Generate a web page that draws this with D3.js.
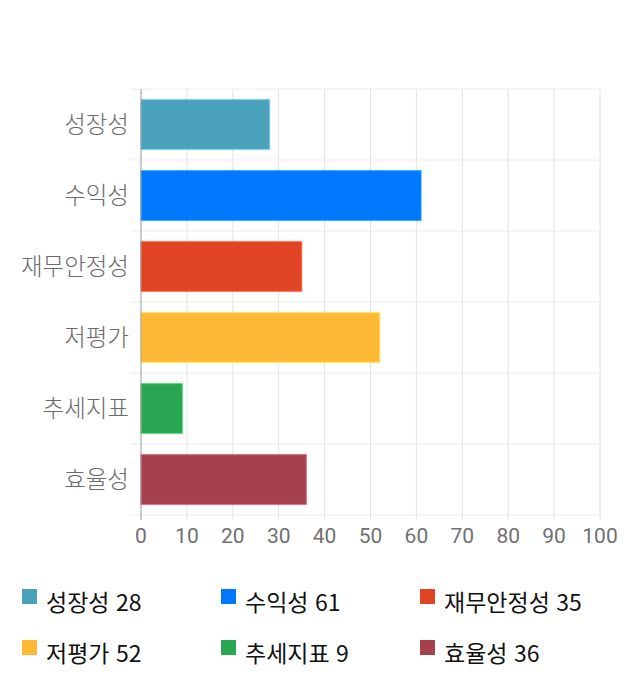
<!DOCTYPE html>
<html lang="ko">
<head>
<meta charset="UTF-8"/>
<title>Score chart</title>
<script src="https://d3js.org/d3.v7.min.js"></script>
<style>
  body { margin: 0; background: #fff; }
  svg text { font-family: "Noto Sans CJK KR", "Noto Sans", sans-serif; }
</style>
</head>
<body>
<script>
    // chart data
    var categories = ["성장성", "수익성", "재무안정성", "저평가", "추세지표", "효율성"];
    var scores = [28, 61, 35, 52, 9, 36];
    var colors = ["#4aa1ba", "#0077ff", "#e04424", "#feb833", "#28a652", "#a6404d"];
    var xTicks = [0, 10, 20, 30, 40, 50, 60, 70, 80, 90, 100];

    var w = 640;
    var h = 700;
    var plotLeft = 141, plotRight = 600, plotTop = 89, plotBottom = 515;

    var svg = d3.select("body")
                .append("svg")
                .attr("width", w)
                .attr("height", h);

    var xScale = d3.scaleLinear()
                   .domain([0, 100])
                   .range([plotLeft, plotRight]);

    var yScale = d3.scaleBand()
                   .domain(categories)
                   .range([plotTop, plotBottom])
                   .paddingInner(0.3)
                   .paddingOuter(0.15);

    var step = yScale.step();

    // vertical grid lines
    svg.selectAll("line.vgrid")
        .data(xTicks.slice(1))
        .enter()
        .append("line")
        .attr("class", "vgrid")
        .attr("x1", function(d) { return xScale(d); })
        .attr("x2", function(d) { return xScale(d); })
        .attr("y1", plotTop)
        .attr("y2", plotBottom + 5)
        .attr("stroke", "#e3e3e3")
        .attr("stroke-width", 1);

    // horizontal band lines
    var bandEdges = d3.range(categories.length + 1).map(function(i) { return plotTop + i * step; });
    svg.selectAll("line.hgrid")
        .data(bandEdges)
        .enter()
        .append("line")
        .attr("class", "hgrid")
        .attr("x1", plotLeft - 11)
        .attr("x2", plotRight)
        .attr("y1", function(d) { return d; })
        .attr("y2", function(d) { return d; })
        .attr("stroke", "#ececec")
        .attr("stroke-width", 1);

    // bars
    svg.selectAll("rect.bar")
        .data(scores)
        .enter()
        .append("rect")
        .attr("class", "bar")
        .attr("x", xScale(0))
        .attr("y", function(d, i) { return yScale(categories[i]); })
        .attr("width", function(d) { return xScale(d) - xScale(0); })
        .attr("height", yScale.bandwidth())
        .attr("fill", function(d, i) { return colors[i]; })
        .attr("stroke", function(d, i) { return d3.color(colors[i]).brighter(0.6); })
        .attr("stroke-opacity", 0.6)
        .attr("stroke-width", 1.5);

    // y axis line
    svg.append("line")
        .attr("x1", plotLeft)
        .attr("x2", plotLeft)
        .attr("y1", plotTop)
        .attr("y2", plotBottom + 5)
        .attr("stroke", "#999")
        .attr("stroke-width", 1);

    // category labels
    svg.selectAll("text.cat")
        .data(categories)
        .enter()
        .append("text")
        .attr("class", "cat")
        .attr("x", plotLeft - 12)
        .attr("y", function(d) { return yScale(d) + yScale.bandwidth() / 2; })
        .attr("dy", "0.35em")
        .attr("text-anchor", "end")
        .attr("font-size", "23.5px")
        .attr("font-weight", 300)
        .attr("fill", "#6b6b6b")
        .text(function(d) { return d; });

    // x tick labels
    svg.selectAll("text.xtick")
        .data(xTicks)
        .enter()
        .append("text")
        .attr("class", "xtick")
        .attr("x", function(d) { return xScale(d); })
        .attr("y", plotBottom + 28)
        .attr("text-anchor", "middle")
        .attr("font-size", "21px")
        .style("font-family", "Roboto, 'Liberation Sans', sans-serif")
        .attr("fill", "#707070")
        .text(function(d) { return d; });

    // legend
    var legend = svg.selectAll("g.legend")
        .data(categories)
        .enter()
        .append("g")
        .attr("class", "legend")
        .attr("transform", function(d, i) {
            return "translate(" + (22 + (i % 3) * 199) + "," + (589 + Math.floor(i / 3) * 51) + ")";
        });

    legend.append("rect")
        .attr("width", 15)
        .attr("height", 15)
        .attr("fill", function(d, i) { return colors[i]; });

    legend.append("text")
        .attr("x", 24)
        .attr("y", 22)
        .attr("font-size", "23px")
        .attr("fill", "#111")
        .text(function(d, i) { return d + " " + scores[i]; });
</script>
</body>
</html>
